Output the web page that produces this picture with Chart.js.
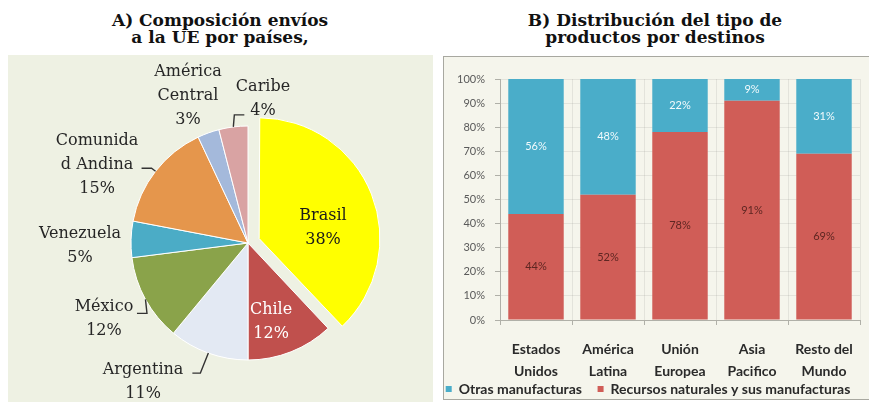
<!DOCTYPE html>
<html>
<head>
<meta charset="utf-8">
<script src="https://cdn.jsdelivr.net/npm/chart.js@4.4.0/dist/chart.umd.min.js"></script>
<style>
  html, body { margin:0; padding:0; background:#ffffff; width:869px; height:402px; overflow:hidden; position:relative; }
  .title { position:absolute; font-family:"DejaVu Serif", serif; font-weight:bold; font-size:17px; line-height:17px; color:#111; text-align:center; }
  #leftPanel { position:absolute; left:8px; top:55px; width:425px; height:347px; background:#eef1e3; }
  #rightPanel { position:absolute; left:443px; top:56px; width:430px; height:344px; background:#f5f5ec; border:1px solid #a8a8a0; box-sizing:border-box; }
  canvas { position:absolute; }
</style>
</head>
<body>
<div class="title" style="left:20px; top:12px; width:400px;">A) Composición envíos<br>a la UE por países,</div>
<div class="title" style="left:455px; top:12px; width:400px;">B) Distribución del tipo de<br>productos por destinos</div>
<div id="leftPanel"></div>
<div id="rightPanel"></div>
<canvas id="pie" width="425" height="347" style="left:8px; top:55px;"></canvas>
<canvas id="bars" width="433" height="350" style="left:436px; top:56px;"></canvas>
<script>
// ---------- Data: pie (A) ----------
const pieCategories = ['Brasil', 'Chile', 'Argentina', 'México', 'Venezuela', 'Comunidad Andina', 'América Central', 'Caribe'];
const pieLabelLines = [['Brasil'], ['Chile'], ['Argentina'], ['México'], ['Venezuela'], ['Comunida', 'd Andina'], ['América', 'Central'], ['Caribe']];
const pieValues = [38, 12, 11, 12, 5, 15, 3, 4];
const pieColors = ['#ffff00', '#c0504d', '#e3e9f3', '#8aa34a', '#4bacc6', '#e5964c', '#a4b9db', '#d9a3a3'];

// ---------- Data: bars (B) ----------
const barCategories = [['Estados', 'Unidos'], ['América', 'Latina'], ['Unión', 'Europea'], ['Asia', 'Pacifico'], ['Resto del', 'Mundo']];
const seriesNames = ['Recursos naturales y sus manufacturas', 'Otras manufacturas'];
const recursosValues = [44, 52, 78, 91, 69];
const otrasValues = [56, 48, 22, 9, 31];
const yTicks = [0, 10, 20, 30, 40, 50, 60, 70, 80, 90, 100];

// label layout for the pie (relative to pie centre, in radius units) and leader lines (px from slice edge)
const pieLabelLayout = [
  { pos: [0.641, -0.128], color: '#1a1a1a' },
  { pos: [0.197, 0.675], color: '#ffffff' },
  { pos: [-0.897, 1.188], color: '#262626', lead: [-8, 20, -8] },
  { pos: [-1.231, 0.650], color: '#262626', lead: [1.5, 14, -10] },
  { pos: [-1.436, 0.021], color: '#262626' },
  { pos: [-1.290, -0.667], color: '#262626', lead: [-4, -3, -10] },
  { pos: [-0.513, -1.256], color: '#262626' },
  { pos: [0.128, -1.231], color: '#262626', lead: [1, -12, 10] }
];

const pieLabelPlugin = {
  id: 'pieLabels',
  afterDatasetsDraw(chart) {
    const ctx = chart.ctx;
    const meta = chart.getDatasetMeta(0);
    ctx.save();
    ctx.font = '16px "DejaVu Serif"';
    ctx.textAlign = 'center';
    ctx.textBaseline = 'middle';
    meta.data.forEach((arc, i) => {
      const p = arc.getProps(['x', 'y', 'startAngle', 'endAngle', 'outerRadius'], true);
      const r = p.outerRadius;
      const mid = (p.startAngle + p.endAngle) / 2;
      const L = pieLabelLayout[i];
      const lines = pieLabelLines[i].concat([pieValues[i] + '%']);
      const lx = p.x + L.pos[0] * r;
      const ly = p.y + L.pos[1] * r;
      ctx.fillStyle = L.color;
      lines.forEach((t, k) => {
        ctx.fillText(t, lx, ly + (k - (lines.length - 1) / 2) * 24);
      });
      if (L.lead) {
        const ex = p.x + Math.cos(mid) * r;
        const ey = p.y + Math.sin(mid) * r;
        const qx = ex + L.lead[0], qy = ey + L.lead[1];
        ctx.beginPath();
        ctx.strokeStyle = '#333333';
        ctx.lineWidth = 1.4;
        ctx.moveTo(ex, ey);
        ctx.lineTo(qx, qy);
        ctx.lineTo(qx + L.lead[2], qy);
        ctx.stroke();
      }
    });
    ctx.restore();
  }
};

new Chart(document.getElementById('pie'), {
  type: 'pie',
  data: {
    labels: pieCategories,
    datasets: [{
      data: pieValues,
      backgroundColor: pieColors,
      borderColor: '#ffffff',
      borderWidth: 1,
      offset: [48, 0, 0, 0, 0, 0, 0, 0]
    }]
  },
  options: {
    responsive: false,
    animation: false,
    devicePixelRatio: 1,
    radius: 117,
    layout: { padding: { left: 55, top: 29, right: 0, bottom: 0 } },
    plugins: { legend: { display: false }, tooltip: { enabled: false } }
  },
  plugins: [pieLabelPlugin]
});

const barLabelPlugin = {
  id: 'barLabels',
  afterDatasetsDraw(chart) {
    const ctx = chart.ctx;
    ctx.save();
    ctx.font = '11px Lato';
    ctx.textAlign = 'center';
    ctx.textBaseline = 'middle';
    chart.data.datasets.forEach((ds, di) => {
      const meta = chart.getDatasetMeta(di);
      ctx.fillStyle = di === 0 ? '#5e2622' : '#f2fafc';
      meta.data.forEach((bar, i) => {
        const p = bar.getProps(['x', 'y', 'base'], true);
        ctx.fillText(ds.data[i] + '%', p.x, (p.y + p.base) / 2);
      });
    });
    ctx.restore();
  }
};

new Chart(document.getElementById('bars'), {
  type: 'bar',
  data: {
    labels: barCategories,
    datasets: [
      { label: seriesNames[0], data: recursosValues, backgroundColor: '#d05d57', barPercentage: 0.77, categoryPercentage: 1 },
      { label: seriesNames[1], data: otrasValues, backgroundColor: '#4aadc9', barPercentage: 0.77, categoryPercentage: 1 }
    ]
  },
  options: {
    responsive: false,
    animation: false,
    devicePixelRatio: 1,
    layout: { padding: { left: 0, top: 23, right: 9, bottom: 0 } },
    scales: {
      x: {
        stacked: true,
        grid: { offset: true, color: 'rgba(0,0,0,0.07)', tickColor: '#b0b0a8', tickLength: 5 },
        border: { color: '#b0b0a8' },
        ticks: { font: { family: 'Lato', size: 14, weight: 'bold', lineHeight: 1.55 }, color: '#2a2a2a', padding: 14, maxRotation: 0, autoSkip: false },
        afterFit(s) { s.height = 60; }
      },
      y: {
        stacked: true,
        min: 0, max: 100,
        afterBuildTicks(s) { s.ticks = yTicks.map(v => ({ value: v })); },
        grid: { color: 'rgba(0,0,0,0.07)', tickColor: '#b0b0a8', tickLength: 5 },
        border: { color: '#b0b0a8' },
        ticks: { font: { family: 'Lato', size: 11 }, color: '#5a5a5a', padding: 10, callback: v => v + '%' },
        afterFit(s) { s.width = 64; }
      }
    },
    plugins: {
      tooltip: { enabled: false },
      legend: {
        position: 'bottom',
        reverse: true,
        labels: {
          boxWidth: 6, boxHeight: 6, padding: 2, color: '#2a2a2a', font: { family: 'Lato', size: 14, weight: 'bold' },
          generateLabels(chart) {
            const items = Chart.defaults.plugins.legend.labels.generateLabels(chart);
            items.forEach(it => { if (it.datasetIndex === 1) it.text = it.text + '    '; });
            return items;
          }
        }
      }
    }
  },
  plugins: [barLabelPlugin]
});
</script>
</body>
</html>
